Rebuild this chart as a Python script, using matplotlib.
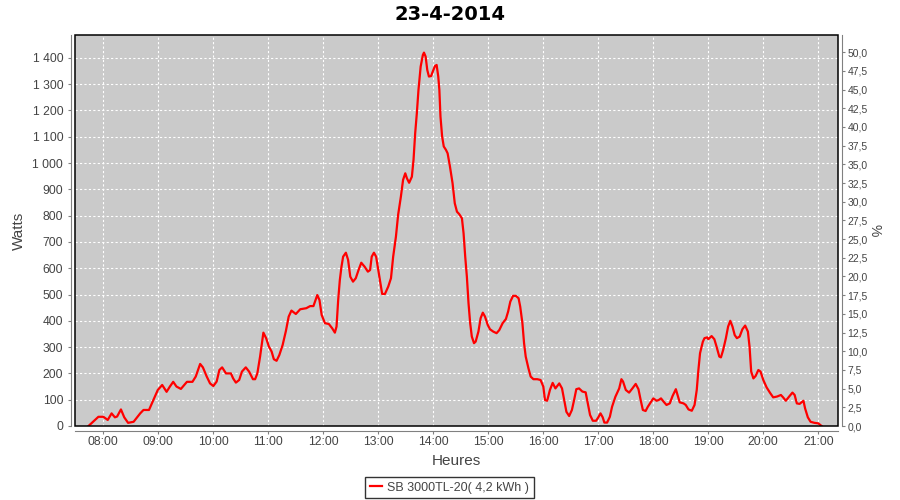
import matplotlib
matplotlib.use("Agg")
import matplotlib.pyplot as plt
from matplotlib.patches import Rectangle
from matplotlib.ticker import FuncFormatter, FixedLocator

# ---- data (time in decimal hours, power in watts) ----
hours = [7.73, 7.91, 8.00, 8.08, 8.15, 8.21, 8.25, 8.32, 8.38, 8.45, 8.55, 8.67, 8.73, 8.83,
         8.91, 8.99, 9.07, 9.15, 9.21, 9.27, 9.33, 9.41, 9.52, 9.62, 9.68, 9.76, 9.81, 9.88,
         9.94, 10.00, 10.06, 10.11, 10.16, 10.23, 10.32, 10.36, 10.41, 10.47, 10.52, 10.59,
         10.65, 10.72, 10.76, 10.80, 10.85, 10.91, 10.96, 11.01, 11.06, 11.10, 11.15, 11.20,
         11.26, 11.32, 11.37, 11.42, 11.50, 11.58, 11.69, 11.76, 11.82, 11.89, 11.93, 11.97,
         12.03, 12.10, 12.16, 12.21, 12.24, 12.27, 12.30, 12.33, 12.36, 12.41, 12.45, 12.49,
         12.54, 12.59, 12.64, 12.69, 12.75, 12.81, 12.85, 12.88, 12.92, 12.96, 13.00, 13.04,
         13.07, 13.12, 13.18, 13.23, 13.27, 13.32, 13.36, 13.41, 13.45, 13.49, 13.52, 13.56,
         13.61, 13.64, 13.67, 13.70, 13.73, 13.77, 13.81, 13.83, 13.86, 13.89, 13.92, 13.96,
         13.99, 14.03, 14.06, 14.09, 14.11, 14.13, 14.16, 14.19, 14.23, 14.26, 14.30, 14.35,
         14.39, 14.43, 14.47, 14.52, 14.55, 14.58, 14.61, 14.64, 14.67, 14.70, 14.74, 14.77,
         14.82, 14.86, 14.90, 14.94, 14.99, 15.03, 15.09, 15.15, 15.20, 15.26, 15.32, 15.36,
         15.40, 15.45, 15.50, 15.55, 15.58, 15.62, 15.65, 15.68, 15.73, 15.77, 15.82, 15.89,
         15.95, 16.00, 16.03, 16.07, 16.12, 16.17, 16.22, 16.29, 16.34, 16.38, 16.42, 16.47,
         16.52, 16.56, 16.60, 16.65, 16.71, 16.77, 16.81, 16.85, 16.90, 16.96, 17.00, 17.04,
         17.08, 17.11, 17.16, 17.21, 17.25, 17.31, 17.38, 17.42, 17.45, 17.50, 17.56, 17.62,
         17.68, 17.73, 17.77, 17.81, 17.86, 17.90, 18.00, 18.06, 18.10, 18.14, 18.19, 18.24,
         18.30, 18.35, 18.41, 18.44, 18.48, 18.55, 18.59, 18.64, 18.70, 18.75, 18.79, 18.82,
         18.85, 18.90, 18.93, 18.98, 19.00, 19.06, 19.11, 19.15, 19.20, 19.23, 19.27, 19.32,
         19.36, 19.40, 19.44, 19.48, 19.52, 19.57, 19.62, 19.67, 19.72, 19.75, 19.78, 19.82,
         19.86, 19.91, 19.95, 20.00, 20.06, 20.12, 20.18, 20.25, 20.32, 20.36, 20.41, 20.47,
         20.53, 20.57, 20.61, 20.66, 20.73, 20.76, 20.81, 20.86, 20.93, 21.00, 21.06]
watts = [0, 35, 35, 23, 48, 33, 36, 63, 33, 12, 16, 48, 61, 61,
         99, 137, 156, 130, 150, 168, 150, 141, 168, 168, 188, 236, 223, 188,
         162, 152, 169, 213, 223, 200, 200, 181, 165, 175, 207, 223,
         207, 178, 178, 200, 264, 355, 334, 302, 283, 254, 248, 270,
         308, 362, 416, 439, 426, 444, 448, 456, 456, 498, 479, 422,
         391, 388, 372, 355, 378, 479, 555, 606, 644, 659, 632, 568,
         549, 562, 593, 621, 606, 587, 593, 644, 659, 644, 593, 543,
         502, 502, 530, 562, 644, 720, 803, 872, 936, 961, 942, 925,
         948, 1012, 1113, 1189, 1278, 1367, 1411, 1420, 1405, 1354, 1329, 1331,
         1348, 1369, 1373, 1329, 1278, 1177, 1101, 1063, 1050, 1037, 990, 923,
         847, 815, 806, 790, 733, 644, 568, 467, 391, 340, 315, 321,
         359, 410, 431, 416, 384, 368, 359, 353, 365, 391, 407, 435,
         473, 495, 495, 486, 454, 391, 315, 264, 219, 188, 178, 178,
         175, 150, 99, 96, 137, 164, 143, 162, 143, 99, 54, 38,
         61, 99, 140, 143, 131, 128, 86, 42, 20, 20, 33, 48,
         33, 13, 13, 35, 73, 111, 143, 178, 169, 137, 127, 143,
         160, 140, 99, 61, 57, 73, 105, 96, 99, 105, 92, 80,
         86, 114, 140, 118, 90, 86, 80, 63, 58, 80, 137, 213,
         277, 320, 334, 337, 330, 342, 330, 302, 264, 261, 289, 334,
         378, 400, 378, 346, 334, 340, 368, 382, 359, 302, 207, 181,
         190, 213, 207, 175, 147, 127, 109, 112, 118, 109, 96, 112,
         127, 118, 86, 84, 96, 67, 33, 16, 12, 10, 0]

hour_ticks = list(range(8, 22))
hour_labels = ["%02d:00" % h for h in hour_ticks]
watt_ticks = list(range(0, 1401, 100))
pct_ticks = [i * 2.5 for i in range(21)]

title = "23-4-2014"
series_name = "SB 3000TL-20( 4,2 kWh )"

plt.rcParams['font.family'] = ['Liberation Sans', 'DejaVu Sans']

fig = plt.figure(figsize=(9, 5), dpi=100)
ax = fig.add_axes([75.3 / 900, 74 / 500, 762.4 / 900, 391 / 500])
ax.set_facecolor('#cacaca')

axis_col = '#808080'
lab_col = '#444444'

ax.set_xlim(7.49, 21.353)
ax.set_ylim(0, 1487)

ax.xaxis.set_major_locator(FixedLocator(hour_ticks))
ax.set_xticklabels(hour_labels)
ax.yaxis.set_major_locator(FixedLocator(watt_ticks))
ax.yaxis.set_major_formatter(FuncFormatter(lambda v, p: "{:,}".format(int(v)).replace(",", " ")))

ax.grid(True, color='white', linestyle=(0, (2, 2)), linewidth=0.8)
ax.set_axisbelow(True)

line, = ax.plot(hours, watts, color='#ff0000', lw=1.6, label=series_name, zorder=3)

for s in ['top', 'right']:
    ax.spines[s].set_visible(False)
ax.spines['left'].set_position(('outward', 3.2))
ax.spines['bottom'].set_position(('outward', 3.4))
for s in ['left', 'bottom']:
    ax.spines[s].set_color(axis_col)
    ax.spines[s].set_linewidth(0.8)
ax.tick_params(axis='both', length=2, width=0.8, color=axis_col, labelcolor=lab_col,
               labelsize=8.7)
ax.tick_params(axis='y', pad=3.5)
ax.tick_params(axis='x', pad=2)

frame = Rectangle((0, 0), 1, 1, transform=ax.transAxes, fill=False, edgecolor='black',
                  linewidth=1.1, zorder=5, clip_on=False)
ax.add_patch(frame)

ax.set_ylabel("Watts", fontsize=11, color=lab_col, labelpad=5)
ax.set_xlabel("Heures", fontsize=11, color=lab_col, labelpad=4)

ax2 = ax.twinx()
ax2.set_ylim(0, 52.3)
ax2.yaxis.set_major_locator(FixedLocator(pct_ticks))
ax2.yaxis.set_major_formatter(FuncFormatter(lambda v, p: ("%.1f" % v).replace(".", ",")))
for s in ['top', 'left', 'bottom']:
    ax2.spines[s].set_visible(False)
ax2.spines['right'].set_position(('outward', 3))
ax2.spines['right'].set_color(axis_col)
ax2.spines['right'].set_linewidth(0.8)
ax2.tick_params(axis='y', length=2, width=0.8, color=axis_col, labelcolor=lab_col,
                labelsize=7.5, pad=2)
ax2.set_ylabel("%", fontsize=10, color=lab_col, rotation=-90, labelpad=10)

fig.suptitle(title, x=0.5, y=1 - 14 / 500, va='center', fontsize=14,
             fontweight='bold', family=['DejaVu Sans'])

leg = fig.legend(handles=[line], loc='center', bbox_to_anchor=(449.5 / 900, 1 - 487.5 / 500),
                 fontsize=9, frameon=True, fancybox=False, edgecolor='black',
                 handlelength=1.0, handletextpad=0.4, borderpad=0.35, borderaxespad=0)
leg.get_frame().set_linewidth(1.0)
for t in leg.get_texts():
    t.set_color(lab_col)

fig.savefig("out.png", dpi=100)
